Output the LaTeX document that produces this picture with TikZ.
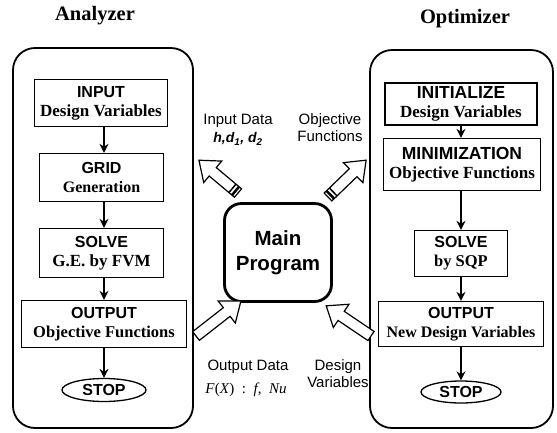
\documentclass[tikz,border=0pt]{standalone}
\usepackage{fontspec}
\setmainfont{Liberation Serif}
\setsansfont{Liberation Sans}
\usetikzlibrary{arrows.meta,shapes.geometric}
\newcommand\hollowarrow[4]{%
  \begin{scope}[shift={(#1)},rotate=#2]
    \draw[blockarr] (0,-5.5) -- (#3-18,-5.5) -- (#3-18,-14) -- (#3,0) -- (#3-18,14) -- (#3-18,5.5) -- (0,5.5) -- cycle;
    \ifx#4y
      \fill (2,-5.5) rectangle (4.5,5.5);
      \fill (6.5,-5.5) rectangle (8,5.5);
    \fi
  \end{scope}}
% header / sub text with given sizes
\newcommand\bxt[4]{{\sffamily\bfseries\fontsize{#3}{19}\selectfont #1}\\{\bfseries\fontsize{#4}{19}\selectfont #2}}
\begin{document}
\begin{tikzpicture}[x=1pt,y=-1pt,
  container/.style={draw, line width=1.8pt, rounded corners=22pt},
  stepbox/.style={draw, line width=1.3pt, align=center, inner sep=0pt,
    font=\fontsize{16}{19}\selectfont},
  stopnode/.style={draw, ellipse, line width=1.3pt, inner sep=0pt,
    font=\sffamily\bfseries\fontsize{16}{19}\selectfont},
  flow/.style={line width=1.3pt, -{Stealth[length=9pt,width=9pt]}},
  blockarr/.style={draw, fill=white, line width=1.2pt, line join=miter},
  title/.style={font=\bfseries\fontsize{20.5}{24}\selectfont},
  lbl/.style={font=\sffamily\fontsize{15}{17}\selectfont, align=center},
  mainbox/.style={draw, line width=2.8pt, rounded corners=17pt, align=center,
    font=\sffamily\bfseries\fontsize{20.5}{25}\selectfont}
]
\useasboundingbox (0,0) rectangle (557,432);

% containers
\draw[container] (13,48) rectangle (193,428);
\draw[container] (370,50) rectangle (553,428);

\node[title] (tA) at (95,16) {Analyzer};
\node[title] (tO) at (465,19) {Optimizer};

% analyzer
\node[stepbox, minimum width=133pt, minimum height=47pt] (in) at (101,103)
  {\bxt{INPUT}{Design Variables}{16}{17}};
\node[stepbox, minimum width=124pt, minimum height=48pt] (grid) at (101.5,177.5)
  {\bxt{GRID}{Generation}{16}{16}};
\node[stepbox, minimum width=124pt, minimum height=49pt] (sol) at (101.5,253)
  {\bxt{SOLVE}{G.E. by FVM}{16}{17}};
\node[stepbox, minimum width=165pt, minimum height=47pt] (out) at (104,324)
  {\bxt{OUTPUT}{Objective Functions}{16}{16.5}};
\node[stopnode, minimum width=84pt, minimum height=23pt] (stop) at (104,390) {STOP};
\draw[flow] (in.south -| stop) -- (grid.north -| stop);
\draw[flow] (grid.south -| stop) -- (sol.north -| stop);
\draw[flow] (sol.south -| stop) -- (out.north -| stop);
\draw[flow] (out) -- (stop);

% optimizer
\node[stepbox, minimum width=152pt, minimum height=42pt] (ini) at (461,104)
  {\bxt{INITIALIZE}{Design Variables}{17.5}{17}};
\node[stepbox, minimum width=157pt, minimum height=52pt] (min) at (462,164.5)
  {\bxt{MINIMIZATION}{Objective Functions}{17.5}{17}};
\node[stepbox, minimum width=93pt, minimum height=46pt] (osol) at (461,253.5)
  {\bxt{SOLVE}{by SQP}{16}{16.5}};
\node[stepbox, minimum width=165pt, minimum height=45pt] (oout) at (461,324)
  {\bxt{OUTPUT}{New Design Variables}{16}{16}};
\node[stopnode, minimum width=80pt, minimum height=22pt] (ostop) at (461,392) {STOP};
\draw[flow] (ini) -- (min.north -| ini);
\draw[flow] (min.south -| ini) -- (osol);
\draw[flow] (osol) -- (oout);
\draw[flow] (oout) -- (ostop);

% main program
\node[mainbox, minimum width=107pt, minimum height=98pt] (main) at (278,252.5) {Main\\Program};

% block arrows
\coordinate (tlt) at (238,193);
\coordinate (trt) at (328,197);
\coordinate (blt) at (196,336);
\coordinate (brt) at (371,336);
\hollowarrow{tlt}{140}{51}{y}
\hollowarrow{trt}{44}{53}{y}
\hollowarrow{blt}{38}{57}{n}
\hollowarrow{brt}{146}{54}{n}

% labels
\node[lbl] (l1) at (238,121) {Input Data};
\node[lbl, font=\sffamily\bfseries\itshape\fontsize{14}{16}\selectfont] (l2) at (238,139)
  {h,d\textsubscript{1}, d\textsubscript{2}};
\node[lbl] (l3) at (330,128) {Objective\\Functions};
\node[lbl] (l4) at (248,367) {Output Data};
\node[font=\fontsize{15}{17}\selectfont] (l5) at (246,390)
  {\textit{F}(\textit{X})\enspace:\enspace\textit{f},\enspace\textit{Nu}};
\node[lbl] (l6) at (338,373.5) {Design\\Variables};
\end{tikzpicture}
\end{document}
